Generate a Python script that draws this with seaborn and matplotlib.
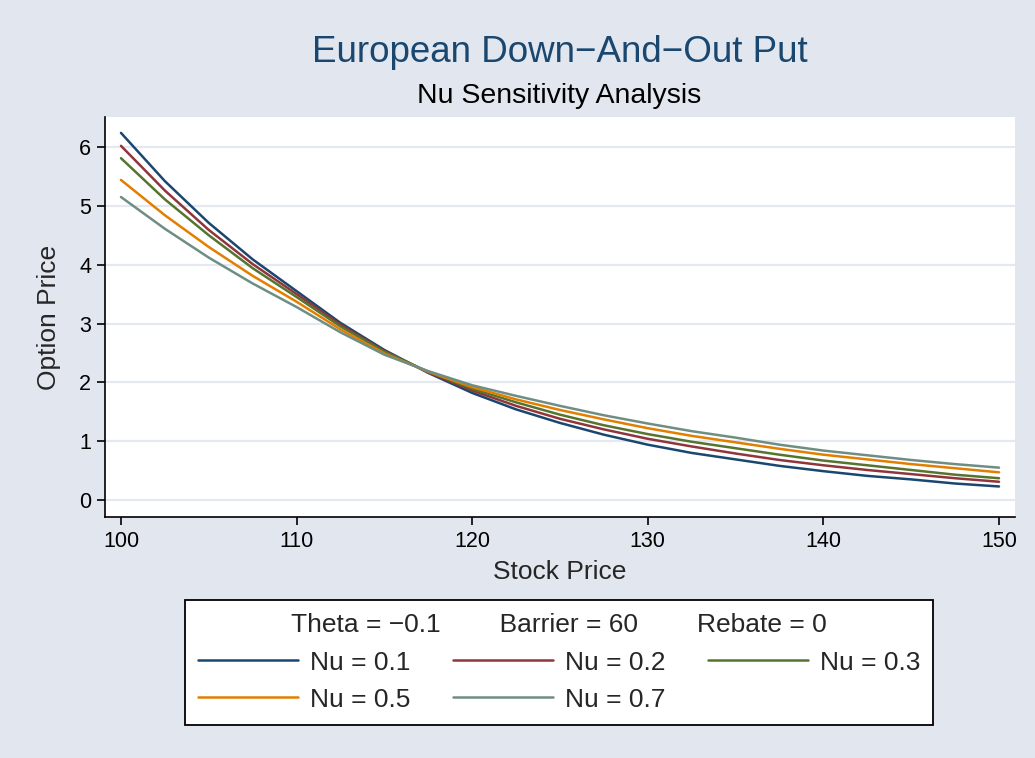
import numpy as np
import pandas as pd
import matplotlib
matplotlib.use("Agg")
import matplotlib.pyplot as plt
import seaborn as sns

# ---- data ----
stock = [100, 102.5, 105, 107.5, 110, 112.5, 115, 117.5, 120, 122.5, 125, 127.5,
         130, 132.5, 135, 137.5, 140, 142.5, 145, 147.5, 150]
nu_01 = [6.24, 5.42, 4.71, 4.09, 3.55, 3.01, 2.55, 2.16, 1.82, 1.54, 1.31, 1.11,
         0.94, 0.80, 0.69, 0.58, 0.49, 0.41, 0.35, 0.28, 0.23]
nu_02 = [6.02, 5.26, 4.59, 4.01, 3.50, 2.98, 2.53, 2.17, 1.86, 1.60, 1.38, 1.20,
         1.04, 0.91, 0.79, 0.68, 0.59, 0.51, 0.44, 0.37, 0.31]
nu_03 = [5.81, 5.11, 4.50, 3.94, 3.45, 2.95, 2.52, 2.18, 1.89, 1.66, 1.45, 1.27,
         1.12, 0.99, 0.88, 0.77, 0.67, 0.59, 0.51, 0.43, 0.37]
nu_05 = [5.44, 4.84, 4.30, 3.81, 3.37, 2.90, 2.49, 2.18, 1.92, 1.71, 1.53, 1.37,
         1.22, 1.09, 0.98, 0.87, 0.77, 0.69, 0.61, 0.54, 0.47]
nu_07 = [5.15, 4.61, 4.12, 3.68, 3.28, 2.85, 2.47, 2.19, 1.95, 1.77, 1.60, 1.44,
         1.30, 1.17, 1.06, 0.94, 0.84, 0.76, 0.68, 0.61, 0.55]
series_labels = ["Nu = 0.1", "Nu = 0.2", "Nu = 0.3", "Nu = 0.5", "Nu = 0.7"]
x_ticks = [100, 110, 120, 130, 140, 150]
y_ticks = [0, 1, 2, 3, 4, 5, 6]
title = "European Down\u2212And\u2212Out Put"
subtitle = "Nu Sensitivity Analysis"
legend_title = "Theta = \u22120.1        Barrier = 60        Rebate = 0"

colors = ["#1A476F", "#90353B", "#55752F", "#E37E00", "#6E8E84"]

frames = []
for lab, vals in zip(series_labels, [nu_01, nu_02, nu_03, nu_05, nu_07]):
    frames.append(pd.DataFrame({"Stock Price": stock, "Option Price": vals, "series": lab}))
df = pd.concat(frames, ignore_index=True)

sns.set_style("white")
plt.rcParams["font.family"] = ["Liberation Sans", "DejaVu Sans"]

bg = "#E2E6EF"
fig = plt.figure(figsize=(10.35, 7.58), dpi=100, facecolor=bg)
ax = fig.add_axes([105 / 1035, 1 - 517 / 758, (1015 - 105) / 1035, (517 - 117) / 758])
ax.set_facecolor("white")

sns.lineplot(data=df, x="Stock Price", y="Option Price", hue="series",
             palette=dict(zip(series_labels, colors)), linewidth=1.8, ax=ax,
             legend=False, sort=True)

ax.set_xlim(99.09, 150.91)
ax.set_ylim(-0.289, 6.51)
ax.set_xticks(x_ticks)
ax.set_yticks(y_ticks)
ax.yaxis.grid(True, color="#E4E8F0", linewidth=1.6)
ax.xaxis.grid(False)
ax.set_axisbelow(True)
for s in ["top", "right"]:
    ax.spines[s].set_visible(False)
for s in ["left", "bottom"]:
    ax.spines[s].set_color("black")
    ax.spines[s].set_linewidth(1.2)
ax.tick_params(axis="both", direction="out", length=6, width=1.2, color="black",
               labelsize=15.5, labelcolor="black", pad=4, left=True, bottom=True)
ax.set_xlabel("Stock Price", fontsize=19, labelpad=6)
ax.set_ylabel("Option Price", fontsize=19, labelpad=13)

fig.text(560 / 1035, 1 - 53 / 758, title, ha="center", va="center",
         fontsize=26.5, color="#1A476F")
fig.text(559 / 1035, 1 - 96 / 758, subtitle, ha="center", va="center",
         fontsize=20.5, color="black")

handles = ax.get_lines()[:5]
order = [0, 3, 1, 4, 2]
leg = fig.legend([handles[i] for i in order], [series_labels[i] for i in order],
                 ncol=3, loc="center", bbox_to_anchor=(559 / 1035, 1 - 662.5 / 758),
                 title=legend_title, title_fontsize=19, fontsize=19,
                 handlelength=3.8, handletextpad=0.45, columnspacing=1.6,
                 frameon=True, fancybox=False, edgecolor="black", framealpha=1,
                 borderpad=0.5, labelspacing=0.5)
leg.get_frame().set_linewidth(1.3)

fig.savefig("out.png", dpi=100, facecolor=bg)
